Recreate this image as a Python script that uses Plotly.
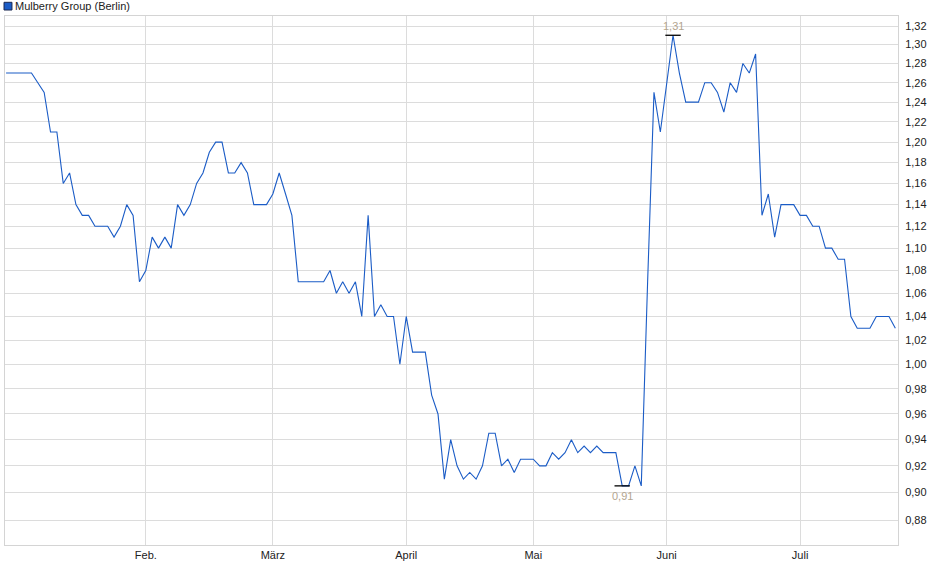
import math
import pandas as pd
import plotly.graph_objects as go

# Mulberry Group, Börse Berlin, daily closes (EUR), 2 Jan - 22 Jul 2025
holidays = ["2025-04-18", "2025-04-21", "2025-05-01"]
dates = pd.bdate_range("2025-01-02", "2025-07-22", freq="C", holidays=holidays)

prices = [
    1.27, 1.27, 1.27, 1.27, 1.27, 1.26, 1.25, 1.21, 1.21, 1.16,
    1.17, 1.14, 1.13, 1.13, 1.12, 1.12, 1.12, 1.11, 1.12, 1.14,
    1.13, 1.07, 1.08, 1.11, 1.10, 1.11, 1.10, 1.14, 1.13, 1.14,
    1.16, 1.17, 1.19, 1.20, 1.20, 1.17, 1.17, 1.18, 1.17, 1.14,
    1.14, 1.14, 1.15, 1.17, 1.15, 1.13, 1.07, 1.07, 1.07, 1.07,
    1.07, 1.08, 1.06, 1.07, 1.06, 1.07, 1.04, 1.13, 1.04, 1.05,
    1.04, 1.04, 1.00, 1.04, 1.01, 1.01, 1.01, 0.975, 0.96, 0.91,
    0.94, 0.92, 0.91, 0.915, 0.91, 0.92, 0.945, 0.945, 0.92, 0.925,
    0.915, 0.925, 0.925, 0.925, 0.92, 0.92, 0.93, 0.925, 0.93, 0.94,
    0.93, 0.935, 0.93, 0.935, 0.93, 0.93, 0.93, 0.905, 0.905, 0.92,
    0.905, 1.07, 1.25, 1.21, 1.26, 1.31, 1.27, 1.24, 1.24, 1.24,
    1.26, 1.26, 1.25, 1.23, 1.26, 1.25, 1.28, 1.27, 1.29, 1.13,
    1.15, 1.11, 1.14, 1.14, 1.14, 1.13, 1.13, 1.12, 1.12, 1.10,
    1.10, 1.09, 1.09, 1.04, 1.03, 1.03, 1.03, 1.04, 1.04, 1.04,
    1.03,
]

month_ticks = ["2025-02-03", "2025-03-03", "2025-04-01", "2025-05-02", "2025-06-02", "2025-07-01"]
month_labels = ["Feb.", "März", "April", "Mai", "Juni", "Juli"]
y_ticks = [0.88, 0.90, 0.92, 0.94, 0.96, 0.98, 1.00, 1.02, 1.04, 1.06, 1.08, 1.10,
           1.12, 1.14, 1.16, 1.18, 1.20, 1.22, 1.24, 1.26, 1.28, 1.30, 1.32]

series_name = "Mulberry Group (Berlin)"
blue = "#1b5cc6"
grid = "#dcdcdc"


def fmt(v):
    return "{:.2f}".format(v).replace(".", ",")


i_max = prices.index(max(prices))
i_min = prices.index(min(prices))

fig = go.Figure()
fig.add_trace(go.Scatter(x=dates, y=prices, mode="lines", name=series_name,
                         line=dict(color=blue, width=1.1), hoverinfo="x+y"))
fig.add_trace(go.Scatter(x=[dates[i_max], dates[i_min]], y=[prices[i_max], prices[i_min]],
                         mode="markers", hoverinfo="skip",
                         marker=dict(symbol="line-ew", size=11, color="black",
                                     line=dict(color="black", width=1.3))))

# annotations on a log axis take log10 positions
fig.add_annotation(x=dates[i_max], y=math.log10(prices[i_max]), text=fmt(prices[i_max]),
                   showarrow=False, yshift=9, font=dict(size=11, color="#b3a58f"))
fig.add_annotation(x=dates[i_min], y=math.log10(prices[i_min]), text=fmt(prices[i_min]),
                   showarrow=False, yshift=-10, font=dict(size=11, color="#b3a58f"))

# legend-like header
fig.add_shape(type="rect", xref="paper", yref="paper",
              x0=-0.0011, x1=0.0078, y0=1.0113, y1=1.0259,
              fillcolor=blue, line=dict(color="#1a2850", width=1))
fig.add_annotation(xref="paper", yref="paper", x=0.009, y=1.0189,
                   xanchor="left", yanchor="middle", showarrow=False,
                   text=series_name, font=dict(size=11, color="#222222"))

fig.update_layout(
    width=940, height=579,
    margin=dict(l=5, r=42, t=16, b=34),
    plot_bgcolor="white", paper_bgcolor="white",
    separators=",.",
    showlegend=False,
    font=dict(family="Liberation Sans, Arial, sans-serif", size=11, color="#222222"),
)
fig.update_xaxes(
    type="date", automargin=False,
    range=["2025-01-01 20:00", "2025-07-22 10:00"],
    rangebreaks=[dict(bounds=["sat", "mon"]), dict(values=holidays)],
    tickvals=month_ticks, ticktext=month_labels,
    showgrid=True, gridcolor=grid, gridwidth=1,
    showline=True, linecolor="#d4d4d4", mirror=True,
    ticks="", zeroline=False, ticklabelstandoff=0,
)
fig.update_yaxes(
    type="log", side="right", automargin=False,
    range=[-0.064429, 0.124139],
    tickvals=y_ticks, tickformat=".2f",
    showgrid=True, gridcolor=grid, gridwidth=1,
    showline=True, linecolor="#d4d4d4", mirror=True,
    ticks="", zeroline=False, ticklabelstandoff=4,
)

# drop the browser's default body margin so the figure sits at the page origin
fig.write_html("out.html", config={"displayModeBar": False},
               post_script="document.body.style.margin='0';")
